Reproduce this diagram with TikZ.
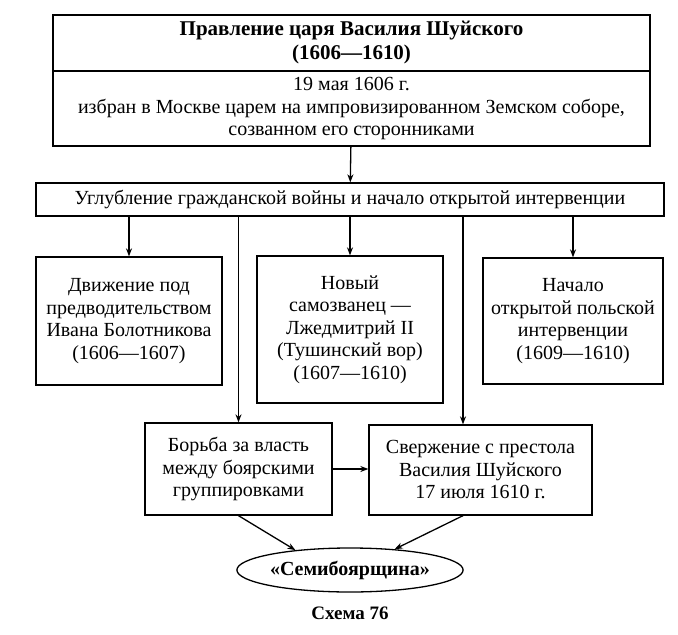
\documentclass[tikz,border=0pt]{standalone}
\usepackage{fontspec}
\setmainfont{Liberation Serif}
\usetikzlibrary{arrows.meta,shapes.geometric}

\begin{document}
\begin{tikzpicture}[
	>={Stealth[length=8pt,width=6pt]},
	line width=1.3pt,
	x=1pt,y=-1pt,
	font=\fontsize{20}{22.5}\selectfont,
	box/.style={draw, rectangle, align=center, inner sep=0pt},
	oval/.style={draw, ellipse, inner sep=0pt, minimum width=215pt, minimum height=44pt}
	]
	% frame
\useasboundingbox (0,0) rectangle (678,635);

% top block
			\node[box, minimum width=597pt, minimum height=56pt, font=\fontsize{21}{24}\selectfont\bfseries] (reign_1_1)   at (351.5, 43) {Правление царя Василия Шуйского\\(1606—1610)};
			\node[box, minimum width=597pt, minimum height=75pt] (elect_1_2)   at (351.5, 108.5) {19 мая 1606 г.\\избран в Москве царем на импровизированном Земском соборе,\\созванном его сторонниками};
			\node[box, minimum width=628pt, minimum height=33pt] (war_2_1)   at (350, 199.5) {Углубление гражданской войны и начало открытой интервенции};

% middle row
			\node[box, minimum width=186pt, minimum height=128pt] (bolot_3_1)   at (129, 321) {Движение под\\предводительством\\Ивана Болотникова\\(1606—1607)};
			\node[box, minimum width=186pt, minimum height=147pt] (lzhed_3_2)   at (350, 329.5) {Новый\\самозванец —\\Лжедмитрий II\\(Тушинский вор)\\(1607—1610)};
			\node[box, minimum width=180pt, minimum height=126pt] (polish_3_3)   at (573, 321) {Начало\\открытой польской\\интервенции\\(1609—1610)};

% lower row
			\node[box, minimum width=187pt, minimum height=92pt] (boyars_4_1)   at (238.5, 469) {Борьба за власть\\между боярскими\\группировками};
			\node[box, minimum width=223pt, minimum height=90pt] (overthrow_4_2)   at (480.5, 470) {Свержение с престола\\Василия Шуйского\\17 июля 1610 г.};
			\node[oval, font=\fontsize{20}{22}\selectfont\bfseries] (semib_5_1)   at (350, 570) {«Семибоярщина»};
			\node[font=\fontsize{19}{22}\selectfont\bfseries] (caption)   at (350, 613) {Схема 76};

			\coordinate (war_out_2) at (463, 216);

			\draw[->] (elect_1_2) -- (war_2_1);
			\draw[->] (bolot_3_1.north |- war_2_1.south) -- (bolot_3_1.north);
			\draw[->] (war_2_1.south) -- (lzhed_3_2.north);
			\draw[->] (polish_3_3.north |- war_2_1.south) -- (polish_3_3.north);
			\draw[->] (boyars_4_1.north |- war_2_1.south) -- (boyars_4_1.north);
			\draw[->] (war_out_2) -- (war_out_2 |- overthrow_4_2.north);
			\draw[->] (boyars_4_1.east) -- (overthrow_4_2.west |- boyars_4_1.east);
			\draw[->] (boyars_4_1.south) -- (semib_5_1.160);
			\draw[->] (overthrow_4_2.south -| war_out_2) -- (semib_5_1.25);

\end{tikzpicture}
\end{document}
